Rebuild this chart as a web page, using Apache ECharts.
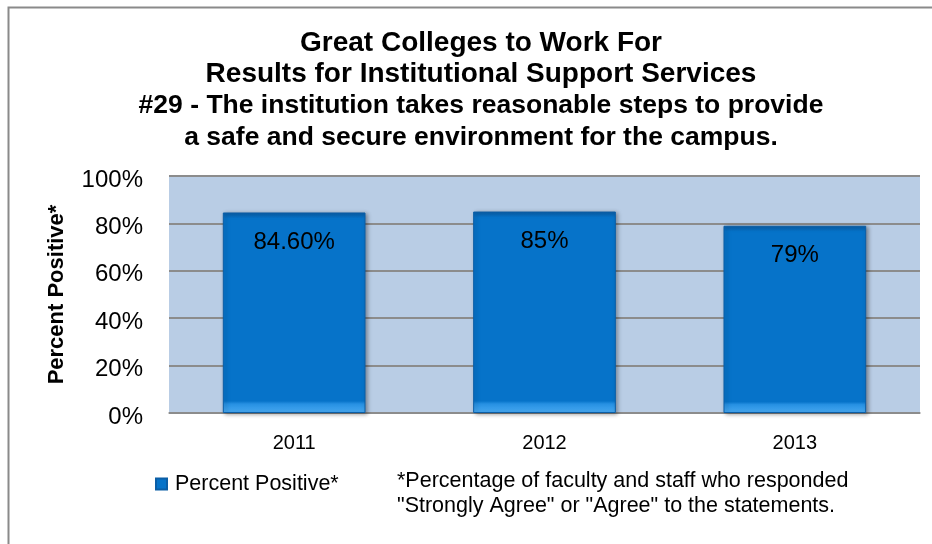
<!DOCTYPE html>
<html>
<head>
<meta charset="utf-8">
<script src="https://cdn.jsdelivr.net/npm/echarts@6/dist/echarts.min.js"></script>
<style>
  html, body { margin: 0; padding: 0; background: #ffffff; }
  #chart { width: 932px; height: 544px; }
</style>
</head>
<body>
<div id="chart"></div>
<script>
// Survey results: share of positive responses per year
const years = ['2011', '2012', '2013'];
const percentPositive = [84.6, 85, 79];
const valueLabels = ['84.60%', '85%', '79%'];
const yTicks = [0, 20, 40, 60, 80, 100];

const titleLines = [
  'Great Colleges to Work For',
  'Results for Institutional Support Services',
  '#29 - The institution takes reasonable steps to provide',
  'a safe and secure environment for the campus.'
];
const seriesName = 'Percent Positive*';
const footnoteLines = [
  '*Percentage of faculty and staff who responded',
  '"Strongly Agree" or "Agree" to the statements.'
];

const FONT = 'Liberation Sans, Arial, sans-serif';
const chart = echarts.init(document.getElementById('chart'), null, { renderer: 'canvas' });

const barFill = new echarts.graphic.LinearGradient(0, 0, 0, 1, [
  { offset: 0, color: '#0a5fa9' },
  { offset: 0.03, color: '#0673c9' },
  { offset: 0.94, color: '#0673c9' },
  { offset: 0.955, color: '#2690e2' },
  { offset: 1, color: '#49abf4' }
]);

// Title: two large heading lines followed by the statement in a slightly smaller size
const titleSizes = [28, 28, 26.5, 26.5];
const titleY = [43, 74, 106, 138];
const titleGraphics = titleLines.map((line, i) => ({
  type: 'text',
  x: 481,
  y: titleY[i],
  silent: true,
  style: {
    text: line,
    font: 'bold ' + titleSizes[i] + 'px ' + FONT,
    fill: '#000',
    align: 'center',
    verticalAlign: 'middle'
  }
}));

chart.setOption({
  animation: false,
  backgroundColor: '#ffffff',
  textStyle: { fontFamily: FONT },
  grid: { left: 169, right: 12, top: 176, bottom: 131, show: true, backgroundColor: '#b9cde5', borderWidth: 0 },
  legend: {
    data: [seriesName],
    left: 150,
    top: 468,
    itemWidth: 11,
    itemHeight: 11,
    textStyle: { fontSize: 21.5, color: '#000', fontFamily: FONT, padding: [0, 0, 0, 3] },
    icon: 'rect'
  },
  xAxis: {
    type: 'category',
    data: years,
    axisLine: { show: true, lineStyle: { color: '#8c8c8c', width: 1.5 } },
    axisTick: { show: false },
    axisLabel: { fontSize: 20, color: '#000', margin: 20 }
  },
  yAxis: {
    type: 'value',
    min: yTicks[0],
    max: yTicks[yTicks.length - 1],
    interval: 20,
    name: seriesName,
    nameLocation: 'middle',
    nameGap: 101,
    nameTextStyle: { fontSize: 22, fontWeight: 'bold', color: '#000' },
    axisLine: { show: false },
    axisTick: { show: false },
    splitLine: { show: true, lineStyle: { color: '#8c8c8c', width: 2 } },
    axisLabel: {
      margin: 26,
      formatter: v => '{t|' + v + '%}',
      rich: { t: { fontSize: 24, color: '#000', fontFamily: FONT, padding: [8, 0, 0, 0] } }
    }
  },
  series: [{
    name: seriesName,
    type: 'bar',
    data: percentPositive,
    barWidth: '57%',
    itemStyle: {
      color: barFill,
      borderColor: '#0b5ea6',
      borderWidth: 1,
      shadowColor: 'rgba(0,0,0,0.35)',
      shadowBlur: 4,
      shadowOffsetX: 2,
      shadowOffsetY: 1
    },
    label: {
      show: true,
      position: 'insideTop',
      distance: 18,
      fontSize: 24,
      color: '#000',
      formatter: p => valueLabels[p.dataIndex]
    }
  }],
  graphic: titleGraphics.concat([
    {
      type: 'rect',
      shape: { x: 8.5, y: 7.5, width: 1000, height: 1000 },
      style: { fill: 'none', stroke: '#8a8a8a', lineWidth: 2 },
      silent: true
    },
    {
      type: 'text',
      x: 397,
      y: 469,
      silent: true,
      style: {
        text: footnoteLines.join('\n'),
        font: '21.5px ' + FONT,
        lineHeight: 25,
        fill: '#000'
      }
    }
  ])
});
</script>
</body>
</html>
